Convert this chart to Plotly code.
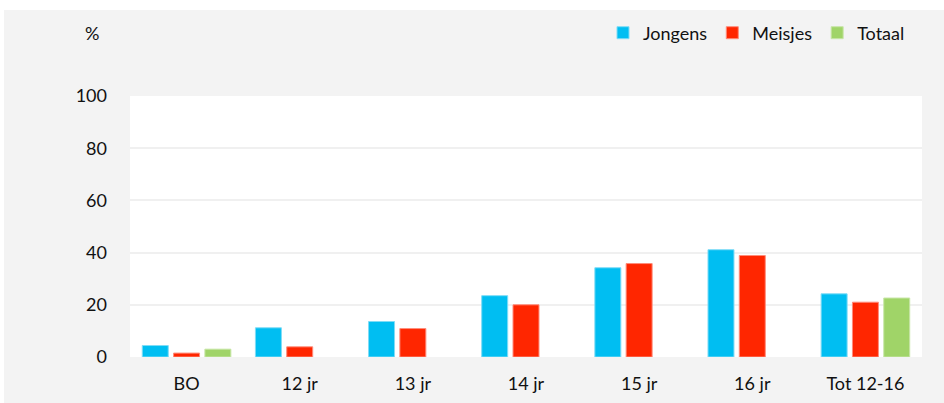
import plotly.graph_objects as go

categories = ["BO", "12 jr", "13 jr", "14 jr", "15 jr", "16 jr", "Tot 12-16"]
jongens = [4.4, 11.2, 13.6, 23.5, 34.2, 41.1, 24.2]
meisjes = [1.5, 3.9, 10.9, 20.0, 35.8, 38.9, 21.0]
totaal = [3.0, None, None, None, None, None, 22.6]
y_ticks = [0, 20, 40, 60, 80, 100]

W, H = 944, 403
L, R, T, B = 130, 22, 96, 46
pw, ph = W - L - R, H - T - B

fig = go.Figure()
for name, vals, col, edge in [
    ("Jongens", jongens, "#00BEF2", "#7fdcf6"),
    ("Meisjes", meisjes, "#FF2600", "#ff8c7a"),
    ("Totaal", totaal, "#A0D468", "#c8e6a8"),
]:
    fig.add_trace(go.Bar(x=categories, y=vals, name=name,
                         marker=dict(color=col, line=dict(color=edge, width=1))))

font = dict(family="Lato, Carlito, 'Open Sans', sans-serif", size=18, color="#111111")

fig.update_layout(
    width=W, height=H,
    margin=dict(l=L, r=R, t=T, b=B, autoexpand=False),
    paper_bgcolor="#f3f3f3",
    plot_bgcolor="#ffffff",
    barmode="group",
    bargap=0.17,
    bargroupgap=0.17,
    font=font,
    showlegend=True,
    legend=dict(orientation="h", xref="container", yref="container",
                xanchor="right", x=910 / W,
                yanchor="middle", y=1 - 33 / H,
                bgcolor="rgba(0,0,0,0)", font=font, itemwidth=30,
                traceorder="normal"),
    xaxis=dict(showgrid=False, zeroline=False, showline=False, ticks="",
               automargin=False, ticklabelstandoff=14, tickfont=font),
    yaxis=dict(range=[0, 100], tickvals=y_ticks, showgrid=True,
               gridcolor="#f0f0f0", gridwidth=1.5, zeroline=False,
               automargin=False,
               showline=False, ticks="", ticklabelstandoff=22, tickfont=font),
    annotations=[dict(text="%", xref="paper", yref="paper",
                      x=(92 - L) / pw, y=1 + (T - 33) / ph,
                      xanchor="center", yanchor="middle", showarrow=False, font=font)],
    shapes=[
        dict(type="rect", xref="paper", yref="paper", layer="below",
             x0=-L / pw - 0.01, x1=1 + R / pw + 0.01,
             y0=1 + (T - 10) / ph, y1=1 + T / ph + 0.01,
             fillcolor="#ffffff", line=dict(width=0)),
        dict(type="rect", xref="paper", yref="paper", layer="below",
             x0=-L / pw - 0.01, x1=-(L - 4) / pw,
             y0=-B / ph - 0.01, y1=1 + T / ph + 0.01,
             fillcolor="#ffffff", line=dict(width=0)),
    ],
)

fig.write_html("out.html", config={"displayModeBar": False},
               post_script="document.body.style.margin='0';document.body.style.overflow='hidden';")
